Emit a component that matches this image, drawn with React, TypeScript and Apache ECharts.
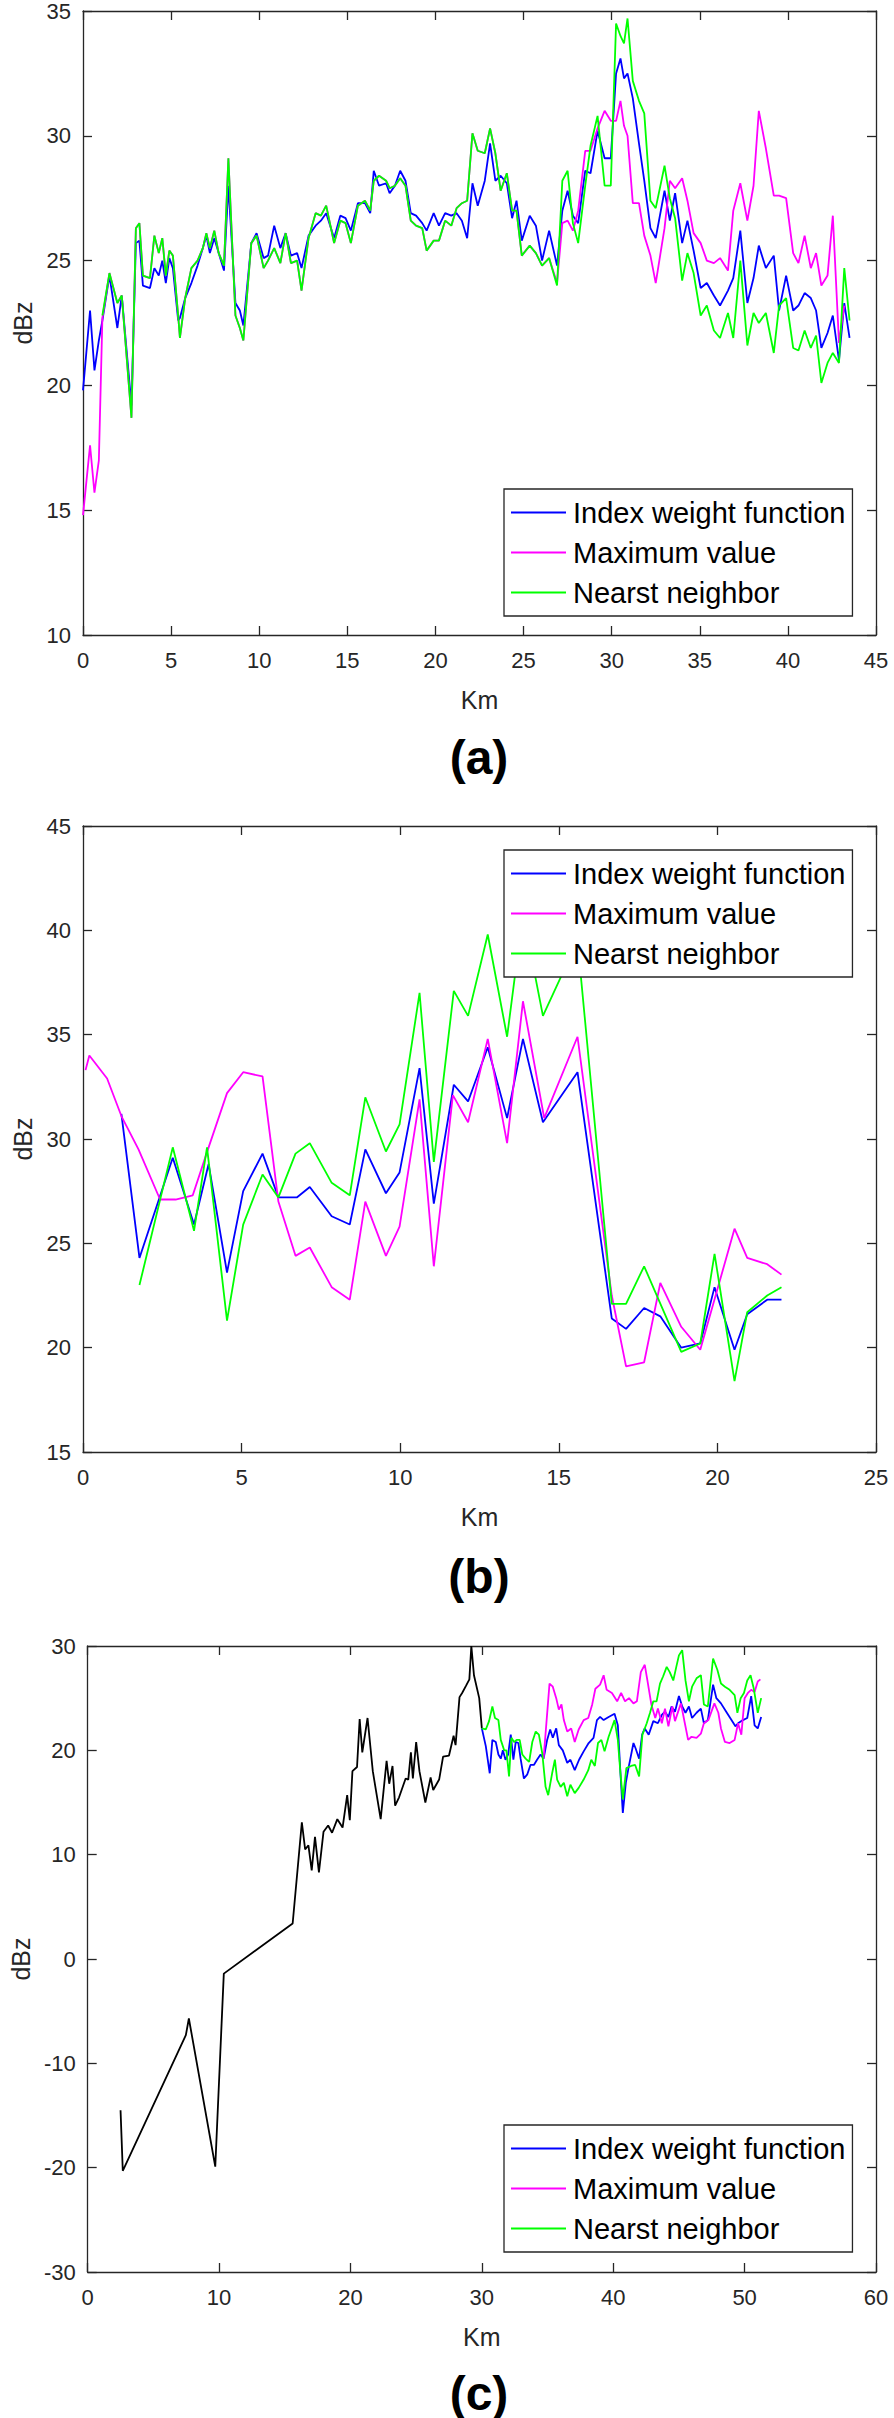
import React, { useEffect, useRef } from "react";
import * as echarts from "echarts";

// ---------- Panel (a) ----------
const kmA = [0, 0.4, 0.65, 0.9, 1.1, 1.5, 1.95, 2.2, 2.75, 3.0, 3.2, 3.4, 3.8, 4.05, 4.3, 4.5, 4.7, 4.9, 5.1, 5.4, 5.5, 5.8, 6.15, 6.5, 6.8, 7.0, 7.2, 7.45, 7.7, 8.0, 8.25, 8.65, 8.9, 9.1, 9.55, 9.85, 10.25, 10.5, 10.85, 11.2, 11.5, 11.8, 12.15, 12.4, 12.8, 13.2, 13.5, 13.8, 14.25, 14.6, 14.9, 15.2, 15.6, 16.0, 16.3, 16.5, 16.8, 17.2, 17.4, 17.7, 18.0, 18.3, 18.6, 18.9, 19.25, 19.5, 19.9, 20.2, 20.55, 20.9, 21.2, 21.5, 21.8, 22.1, 22.4, 22.8, 23.1, 23.4, 23.7, 24.05, 24.35, 24.6, 24.9, 25.35, 25.7, 26.05, 26.45, 26.9, 27.2, 27.5, 27.8, 28.1, 28.5, 28.8, 29.2, 29.6, 29.95, 30.25, 30.5, 30.7, 30.9, 31.2, 31.55, 31.85, 32.2, 32.5, 33.0, 33.3, 33.6, 34.0, 34.3, 34.65, 35.05, 35.4, 35.8, 36.15, 36.6, 36.9, 37.3, 37.7, 38.05, 38.35, 38.75, 39.2, 39.5, 39.9, 40.3, 40.6, 40.95, 41.3, 41.6, 41.9, 42.25, 42.55, 42.9, 43.2, 43.5];
const indexA = [19.8, 23.0, 20.6, 21.8, 22.6, 24.4, 22.3, 23.6, 19.2, 25.7, 25.8, 24.0, 23.9, 24.7, 24.4, 25.0, 24.1, 25.1, 24.7, 22.6, 22.7, 23.5, 24.1, 24.8, 25.5, 26.0, 25.3, 25.9, 25.3, 24.6, 28.0, 23.3, 23.0, 22.4, 25.7, 26.1, 25.1, 25.2, 26.4, 25.5, 26.1, 25.2, 25.3, 24.7, 26.0, 26.4, 26.6, 26.9, 25.9, 26.8, 26.7, 26.2, 27.3, 27.3, 26.9, 28.6, 28.0, 28.1, 27.7, 28.0, 28.6, 28.2, 26.9, 26.8, 26.5, 26.2, 26.9, 26.4, 26.9, 26.8, 26.9, 26.6, 25.9, 28.1, 27.2, 28.2, 29.7, 28.2, 28.4, 28.1, 26.7, 27.4, 25.8, 26.8, 26.4, 25.0, 26.2, 24.8, 27.0, 27.8, 26.8, 26.5, 28.6, 28.5, 30.2, 29.1, 29.1, 32.5, 33.1, 32.3, 32.5, 31.5, 29.7, 28.2, 26.3, 25.9, 27.8, 26.6, 27.7, 25.7, 26.6, 25.4, 23.9, 24.1, 23.6, 23.2, 23.8, 24.3, 26.2, 23.3, 24.3, 25.6, 24.7, 25.2, 23.0, 24.4, 23.0, 23.2, 23.7, 23.5, 23.0, 21.5, 22.1, 22.8, 21.0, 23.3, 21.9];
const maxA = [14.8, 17.6, 15.7, 17.0, 22.7, 24.5, 23.3, 23.6, 18.7, 26.3, 26.5, 24.4, 24.3, 26.0, 25.3, 25.9, 24.4, 25.4, 25.2, 22.8, 21.9, 23.5, 24.7, 25.0, 25.5, 26.1, 25.5, 26.2, 25.3, 24.8, 29.1, 22.8, 22.3, 21.8, 25.7, 26.0, 24.7, 25.0, 25.5, 24.9, 26.1, 24.9, 25.0, 23.8, 25.9, 26.9, 26.8, 27.2, 25.7, 26.6, 26.5, 25.7, 27.2, 27.4, 27.0, 28.2, 28.4, 28.2, 27.9, 28.0, 28.3, 28.0, 26.6, 26.4, 26.3, 25.4, 25.8, 25.8, 26.6, 26.4, 27.1, 27.3, 27.4, 30.1, 29.4, 29.3, 30.3, 29.3, 27.8, 28.5, 27.0, 27.0, 25.2, 25.6, 25.3, 24.8, 25.1, 24.1, 26.5, 26.6, 26.2, 27.0, 29.4, 29.4, 30.3, 31.0, 30.6, 30.6, 31.4, 30.4, 30.0, 27.3, 27.3, 26.0, 25.2, 24.1, 26.3, 28.2, 27.9, 28.3, 27.4, 26.1, 25.7, 25.0, 24.9, 25.1, 24.6, 27.0, 28.1, 26.6, 28.0, 31.0, 29.5, 27.6, 27.6, 27.5, 25.3, 24.9, 26.0, 24.7, 25.3, 24.0, 24.4, 26.8, 21.7, 23.2, null];
const nearA = [null, null, null, null, 22.8, 24.5, 23.3, 23.6, 18.7, 26.3, 26.5, 24.4, 24.3, 26.0, 25.3, 25.9, 24.4, 25.4, 25.2, 22.8, 21.9, 23.5, 24.7, 25.0, 25.5, 26.1, 25.5, 26.2, 25.3, 24.8, 29.1, 22.8, 22.3, 21.8, 25.7, 26.0, 24.7, 25.0, 25.5, 24.9, 26.1, 24.9, 25.0, 23.8, 25.9, 26.9, 26.8, 27.2, 25.7, 26.6, 26.5, 25.7, 27.2, 27.4, 27.0, 28.2, 28.4, 28.2, 27.9, 28.0, 28.3, 28.0, 26.6, 26.4, 26.3, 25.4, 25.8, 25.8, 26.6, 26.4, 27.1, 27.3, 27.4, 30.1, 29.4, 29.3, 30.3, 29.3, 27.8, 28.5, 27.0, 27.0, 25.2, 25.6, 25.3, 24.8, 25.1, 24.0, 28.2, 28.6, 26.5, 25.7, 28.0, 29.6, 30.8, 28.0, 28.0, 34.5, 34.0, 33.7, 34.7, 32.2, 31.4, 30.9, 27.4, 27.1, 28.8, 27.5, 26.7, 24.2, 25.3, 24.5, 22.8, 23.2, 22.2, 21.9, 22.9, 21.9, 25.0, 21.6, 22.9, 22.5, 22.9, 21.3, 23.2, 23.5, 21.5, 21.4, 22.2, 21.5, 22.0, 20.1, 20.9, 21.3, 20.9, 24.7, 22.6];

// ---------- Panel (b) ----------
const kmIndexB = [1.21, 1.78, 2.83, 3.5, 3.96, 4.54, 5.05, 5.66, 6.16, 6.74, 7.15, 7.84, 8.41, 8.9, 9.55, 9.98, 10.61, 11.06, 11.69, 12.14, 12.76, 13.37, 13.87, 14.5, 15.59, 16.67, 17.12, 17.69, 18.2, 18.86, 19.46, 19.91, 20.54, 20.94, 21.57, 22.02];
const indexB = [31.2, 24.3, 29.1, 25.9, 28.8, 23.6, 27.5, 29.3, 27.2, 27.2, 27.7, 26.3, 25.9, 29.5, 27.4, 28.4, 33.4, 26.9, 32.6, 31.8, 34.4, 31.0, 34.8, 30.8, 33.2, 21.4, 20.9, 21.9, 21.5, 20.0, 20.2, 22.9, 19.9, 21.6, 22.3, 22.3];
const kmMaxB = [0.08, 0.2, 0.76, 1.21, 1.75, 2.43, 2.92, 3.46, 3.96, 4.54, 5.05, 5.66, 6.16, 6.7, 7.15, 7.84, 8.41, 8.9, 9.55, 9.98, 10.61, 11.06, 11.66, 12.14, 12.76, 13.37, 13.87, 14.54, 15.59, 16.67, 17.12, 17.69, 18.2, 18.86, 19.46, 20.54, 20.94, 21.57, 22.02];
const maxB = [33.3, 34.0, 32.9, 31.1, 29.5, 27.1, 27.1, 27.3, 29.6, 32.2, 33.2, 33.0, 27.0, 24.4, 24.8, 22.9, 22.3, 27.0, 24.4, 25.8, 31.9, 23.9, 32.1, 30.8, 34.8, 29.8, 36.6, 31.0, 34.9, 22.5, 19.1, 19.3, 23.1, 21.0, 19.9, 25.7, 24.3, 24.0, 23.5];
const kmNearB = [1.78, 2.83, 3.5, 3.91, 4.54, 5.05, 5.66, 6.16, 6.7, 7.15, 7.84, 8.41, 8.9, 9.55, 9.98, 10.61, 11.06, 11.69, 12.14, 12.76, 13.37, 13.87, 14.5, 15.59, 16.67, 17.12, 17.69, 18.86, 19.46, 19.91, 20.54, 20.94, 21.57, 22.02];
const nearB = [23.0, 29.6, 25.6, 29.6, 21.3, 25.9, 28.3, 27.2, 29.3, 29.8, 27.9, 27.3, 32.0, 29.4, 30.7, 37.0, 28.9, 37.1, 35.9, 39.8, 34.9, 40.8, 35.9, 39.5, 22.1, 22.1, 23.9, 19.8, 20.2, 24.5, 18.4, 21.7, 22.5, 22.9];

// ---------- Panel (c) ----------
const kmRawC = [2.5, 2.67, 7.47, 7.7, 9.71, 10.36, 15.6, 16.3, 16.55, 16.8, 17.05, 17.3, 17.6, 17.95, 18.3, 18.6, 19.0, 19.4, 19.75, 19.95, 20.15, 20.5, 20.7, 20.9, 21.3, 21.7, 22.3, 22.75, 22.95, 23.2, 23.4, 23.7, 24.2, 24.4, 24.6, 24.75, 25.0, 25.25, 25.7, 26.1, 26.3, 26.75, 27.05, 27.5, 27.85, 28.0, 28.3, 28.5, 28.8, 29.05, 29.2, 29.4, 29.8, 30.0];
const rawC = [-14.5, -20.3, -7.3, -5.7, -19.9, -1.4, 3.4, 13.1, 10.5, 10.9, 8.5, 11.7, 8.3, 12.2, 12.8, 12.1, 13.4, 12.6, 15.7, 13.3, 18.0, 18.4, 23.0, 19.8, 23.1, 18.0, 13.4, 19.0, 16.8, 18.5, 14.7, 15.5, 17.3, 17.2, 19.8, 17.3, 20.8, 18.0, 15.0, 17.4, 16.2, 17.2, 19.4, 19.5, 21.4, 20.5, 25.1, 25.5, 26.2, 26.8, 30.0, 27.2, 25.0, 22.1];
const kmIndexC = [30.0, 30.3, 30.6, 30.8, 31.06, 31.26, 31.44, 31.6, 31.8, 32.0, 32.2, 32.4, 32.58, 32.78, 32.95, 33.2, 33.46, 33.7, 33.96, 34.2, 34.47, 34.7, 34.97, 35.2, 35.4, 35.66, 35.86, 36.16, 36.5, 36.74, 37.07, 37.4, 37.75, 38.13, 38.5, 38.76, 39.0, 39.27, 39.65, 40.1, 40.35, 40.55, 40.73, 40.96, 41.16, 41.54, 41.7, 41.97, 42.2, 42.4, 42.7, 43.05, 43.4, 43.7, 43.94, 44.2, 44.44, 44.7, 45.0, 45.25, 45.5, 45.76, 46.0, 46.34, 46.67, 46.9, 47.2, 47.6, 47.85, 48.2, 48.6, 49.0, 49.3, 49.5, 49.87, 50.2, 50.5, 50.76, 51.0, 51.26];
const indexC = [22.1, 20.4, 17.8, 21.0, 20.8, 19.6, 19.2, 20.0, 19.1, 19.6, 21.5, 19.1, 20.8, 20.7, 19.2, 17.3, 17.7, 18.6, 18.6, 19.1, 19.6, 19.2, 21.0, 22.0, 21.2, 22.1, 20.5, 20.0, 18.8, 19.1, 18.1, 19.1, 19.9, 20.7, 21.2, 22.9, 23.2, 22.9, 23.2, 23.5, 22.4, 17.8, 14.0, 16.9, 18.3, 20.7, 20.2, 19.2, 21.5, 22.1, 21.5, 22.8, 22.6, 23.4, 23.7, 23.2, 24.2, 23.7, 25.2, 24.2, 23.6, 24.2, 23.1, 23.6, 24.0, 22.6, 22.9, 26.3, 25.0, 24.5, 23.7, 22.9, 22.3, 22.6, 22.9, 23.1, 25.2, 22.4, 22.1, 23.2];
const kmMaxC = [34.7, 35.15, 35.4, 35.66, 35.86, 36.06, 36.24, 36.5, 36.8, 37.07, 37.37, 37.75, 38.1, 38.4, 38.64, 39.0, 39.27, 39.5, 39.9, 40.3, 40.6, 40.9, 41.2, 41.54, 41.8, 42.1, 42.4, 42.6, 42.9, 43.2, 43.4, 43.7, 43.94, 44.2, 44.5, 44.7, 45.15, 45.45, 45.7, 45.96, 46.34, 46.67, 46.9, 47.24, 47.7, 48.0, 48.2, 48.5, 48.86, 49.24, 49.5, 49.75, 50.0, 50.25, 50.5, 50.76, 51.0, 51.2];
const maxC = [19.2, 26.4, 26.1, 25.0, 23.9, 24.4, 22.9, 21.8, 22.1, 20.8, 22.0, 22.9, 23.1, 24.4, 25.9, 26.3, 27.2, 25.8, 25.5, 24.7, 25.5, 24.7, 25.0, 24.5, 24.7, 27.5, 28.2, 26.7, 24.4, 23.1, 24.0, 22.6, 24.0, 22.3, 24.2, 22.8, 24.5, 22.6, 21.0, 21.3, 21.2, 21.6, 22.6, 22.9, 24.5, 23.6, 22.1, 20.8, 20.7, 21.0, 22.6, 21.5, 25.0, 25.5, 25.8, 25.6, 26.6, 26.8];
const kmNearC = [30.0, 30.3, 30.55, 30.8, 31.0, 31.26, 31.44, 31.7, 31.87, 32.07, 32.25, 32.45, 32.65, 32.88, 33.08, 33.33, 33.6, 33.84, 34.1, 34.34, 34.6, 34.85, 35.05, 35.35, 35.56, 35.73, 36.0, 36.24, 36.5, 36.74, 37.07, 37.37, 37.75, 38.1, 38.33, 38.6, 38.84, 39.1, 39.34, 39.65, 40.1, 40.35, 40.55, 40.73, 41.0, 41.36, 41.67, 41.97, 42.22, 42.55, 42.8, 43.05, 43.3, 43.56, 43.8, 44.07, 44.3, 44.57, 44.8, 45.0, 45.25, 45.5, 45.76, 46.0, 46.34, 46.67, 46.9, 47.2, 47.6, 47.93, 48.2, 48.5, 48.86, 49.24, 49.45, 49.7, 49.95, 50.2, 50.45, 50.7, 51.0, 51.26];
const nearC = [22.1, 22.0, 22.8, 24.2, 23.1, 22.9, 21.0, 20.0, 20.0, 17.5, 21.2, 20.8, 21.0, 21.0, 19.6, 19.2, 18.9, 20.8, 21.8, 21.5, 19.7, 16.5, 15.7, 17.8, 19.1, 17.2, 16.5, 16.9, 15.6, 16.7, 15.9, 16.4, 17.2, 18.1, 19.1, 18.5, 20.7, 21.0, 19.9, 21.3, 22.9, 21.0, 17.8, 15.3, 18.3, 18.5, 18.6, 17.5, 21.5, 22.6, 23.6, 24.7, 24.7, 26.4, 27.1, 28.0, 27.5, 26.7, 28.0, 29.1, 29.6, 26.7, 24.7, 26.1, 26.9, 27.2, 24.4, 24.2, 28.8, 27.7, 26.4, 26.1, 25.8, 25.3, 23.6, 25.0, 25.5, 26.7, 27.2, 25.9, 23.6, 25.0];

// ---------- Labels ----------
const seriesNames = ["Index weight function", "Maximum value", "Nearst neighbor"];
const panelTags = ["(a)", "(b)", "(c)"];
const xTitle = "Km";
const yTitle = "dBz";
const xRanges = [[0, 45, 5], [0, 25, 5], [0, 60, 10]];
const yRanges = [[10, 35, 5], [15, 45, 5], [-30, 30, 10]];

const FONT = "'Liberation Sans', Arial, Helvetica, sans-serif";
const AX = "#262626";
const COLORS = ["#0000ff", "#ff00ff", "#00ff00"];

const pairs = (xs: number[], ys: (number | null)[]) => xs.map((x, i) => [x, ys[i]]);

export default function App() {
  const ref = useRef<HTMLDivElement>(null);
  useEffect(() => {
    if (!ref.current) return;
    const chart = echarts.init(ref.current, null, { renderer: "svg" });

    const grids = [
      { left: 83, top: 11, width: 793, height: 624 },
      { left: 83, top: 826, width: 793, height: 626 },
      { left: 83, top: 1646, width: 793, height: 626 },
    ];
    const legendTops = [489, 850, 2125];
    const tagY = [757, 1576, 2393];

    const xAxis: any[] = [];
    const yAxis: any[] = [];
    grids.forEach((_, g) => {
      const [xmin, xmax, xint] = xRanges[g];
      const [ymin, ymax, yint] = yRanges[g];
      const common = {
        type: "value",
        gridIndex: g,
        splitLine: { show: false },
        axisLine: { show: true, onZero: false, lineStyle: { color: AX, width: 1.3 } },
        axisTick: { show: true, inside: true, length: 9, lineStyle: { color: AX, width: 1.3 } },
      };
      xAxis.push({
        ...common,
        position: "bottom",
        min: xmin, max: xmax, interval: xint,
        axisLabel: { color: AX, fontSize: 22, fontFamily: FONT, margin: 14 },
        name: xTitle,
        nameLocation: "middle",
        nameGap: 52,
        nameTextStyle: { color: AX, fontSize: 25, fontFamily: FONT },
      });
      xAxis.push({
        ...common,
        position: "top",
        min: xmin, max: xmax, interval: xint,
        axisLabel: { show: false },
      });
      yAxis.push({
        ...common,
        position: "left",
        min: ymin, max: ymax, interval: yint,
        axisLabel: { color: AX, fontSize: 22, fontFamily: FONT, margin: 12 },
        name: yTitle,
        nameLocation: "middle",
        nameGap: 47,
        nameTextStyle: { color: AX, fontSize: 25, fontFamily: FONT },
      });
      yAxis.push({
        ...common,
        position: "right",
        min: ymin, max: ymax, interval: yint,
        axisLabel: { show: false },
      });
    });

    const line = (name: string, color: string, g: number, data: any[]) => ({
      type: "line",
      name,
      xAxisIndex: 2 * g,
      yAxisIndex: 2 * g,
      data,
      showSymbol: false,
      symbol: "none",
      connectNulls: false,
      itemStyle: { color },
      lineStyle: { color, width: 1.8 },
      emphasis: { disabled: true },
    });

    const series = [
      line(seriesNames[0], COLORS[0], 0, pairs(kmA, indexA)),
      line(seriesNames[1], COLORS[1], 0, pairs(kmA, maxA)),
      line(seriesNames[2], COLORS[2], 0, pairs(kmA, nearA)),
      line(seriesNames[0], COLORS[0], 1, pairs(kmIndexB, indexB)),
      line(seriesNames[1], COLORS[1], 1, pairs(kmMaxB, maxB)),
      line(seriesNames[2], COLORS[2], 1, pairs(kmNearB, nearB)),
      line("raw", "#000000", 2, pairs(kmRawC, rawC)),
      line(seriesNames[0], COLORS[0], 2, pairs(kmIndexC, indexC)),
      line(seriesNames[1], COLORS[1], 2, pairs(kmMaxC, maxC)),
      line(seriesNames[2], COLORS[2], 2, pairs(kmNearC, nearC)),
    ];

    const legend = legendTops.map((top) => ({
      orient: "vertical",
      left: 504,
      top,
      backgroundColor: "#ffffff",
      borderColor: AX,
      borderWidth: 1.3,
      borderRadius: 0,
      padding: [9, 7, 9, 7],
      itemWidth: 55,
      itemHeight: 2,
      itemGap: 11,
      icon: "rect",
      selectedMode: false,
      textStyle: { color: "#000", fontSize: 29, fontFamily: FONT, padding: [0, 0, 0, 2] },
      data: seriesNames,
      z: 10,
    }));

    const graphic = panelTags.map((t, i) => ({
      type: "text",
      x: 479,
      y: tagY[i],
      style: {
        text: t,
        fontSize: 48,
        fontWeight: "bold",
        fontFamily: FONT,
        fill: "#000",
        align: "center",
        verticalAlign: "middle",
      },
    }));

    chart.setOption({
      animation: false,
      backgroundColor: "#ffffff",
      grid: grids,
      xAxis,
      yAxis,
      legend,
      series,
      graphic,
    });
    return () => chart.dispose();
  }, []);

  return (
    <div
      ref={ref}
      style={{ position: "absolute", left: 0, top: 0, width: 894, height: 2418, background: "#fff" }}
    />
  );
}
